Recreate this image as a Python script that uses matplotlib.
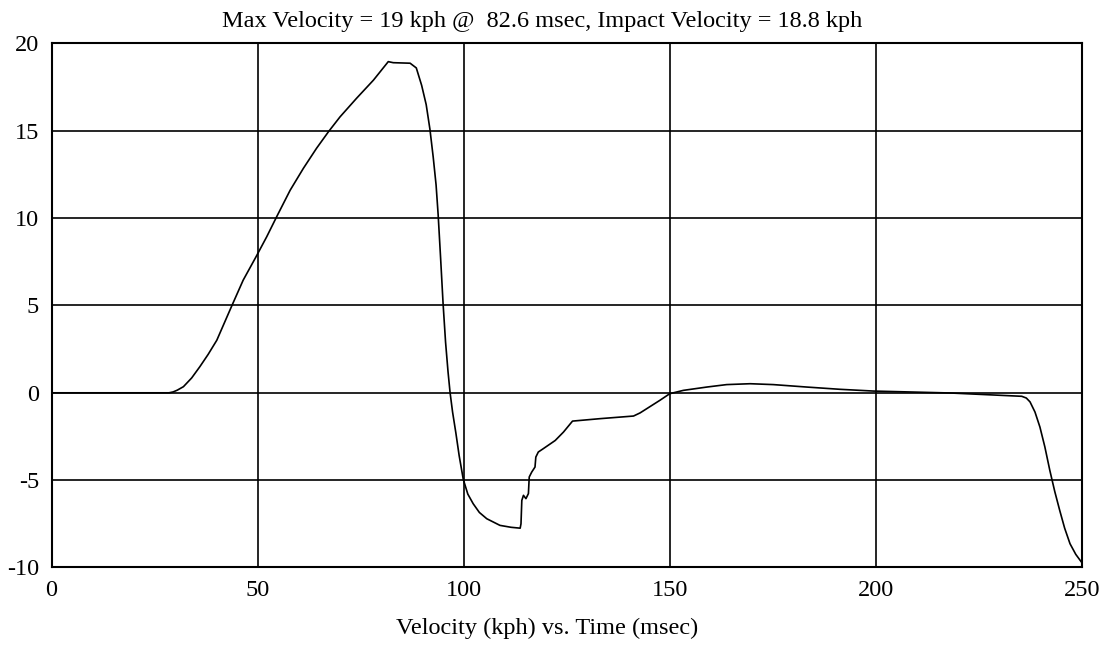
import numpy as np
import matplotlib.pyplot as plt

# time (msec) and velocity (kph)
time_ms = [0, 28.5, 29.5, 30.5, 32.0, 34.0, 36.0, 38.0, 40.1, 43.7, 46.5,
           49.6, 52.2, 54.6, 57.9, 61.1, 64.3, 67.2, 70.0, 74.0, 78.1, 81.7,
           82.9, 87.0, 88.5, 89.8, 90.9, 91.8, 92.6, 93.3, 93.8, 94.4, 95.0,
           95.6, 96.2, 96.7, 97.3, 98.1, 98.9, 99.9, 101.0, 102.3, 103.8,
           105.6, 108.8, 111.5, 113.7, 113.9, 114.1, 114.5, 115.1, 115.7,
           115.9, 116.5, 117.3, 117.5, 118.1, 119.3, 122.2, 124.2, 126.4,
           133.1, 141.2, 142.8, 144.4, 147.6, 150.0, 153.3, 159.0, 163.8,
           169.5, 175.1, 183.2, 191.3, 199.4, 218.0, 235.4, 236.5, 237.4,
           238.6, 239.8, 241.0, 242.2, 243.4, 244.6, 245.8, 247.1, 248.5,
           249.9]
velocity = [0, 0, 0.05, 0.15, 0.35, 0.85, 1.5, 2.2, 3.01, 4.96, 6.45,
            7.78, 8.93, 10.07, 11.6, 12.85, 14.0, 14.95, 15.8, 16.86, 17.9, 18.96,
            18.9, 18.87, 18.6, 17.6, 16.5, 15.1, 13.5, 11.9, 10.2, 7.7, 5.1,
            2.9, 1.2, 0.0, -1.1, -2.3, -3.6, -4.96, -5.8, -6.35, -6.85,
            -7.21, -7.59, -7.7, -7.75, -7.5, -6.16, -5.87, -6.06, -5.77,
            -4.82, -4.54, -4.25, -3.68, -3.39, -3.2, -2.73, -2.25, -1.62,
            -1.48, -1.33, -1.15, -0.91, -0.43, -0.05, 0.14, 0.33, 0.47,
            0.52, 0.47, 0.33, 0.2, 0.1, -0.01, -0.2, -0.3, -0.52,
            -1.1, -1.96, -3.1, -4.44, -5.65, -6.73, -7.75, -8.64, -9.25,
            -9.7]

x_ticks = [0, 50, 100, 150, 200, 250]
y_ticks = [-10, -5, 0, 5, 10, 15, 20]

title = "Max Velocity = 19 kph @  82.6 msec, Impact Velocity = 18.8 kph"
xlabel = "Velocity (kph) vs. Time (msec)"

plt.rcParams['font.family'] = ['Liberation Serif', 'DejaVu Serif']
plt.rcParams['axes.unicode_minus'] = False

fig = plt.figure(figsize=(11.08, 6.45), dpi=100)
ax = fig.add_axes([0.0465, 0.1202, 0.930, 0.8124])

ax.plot(time_ms, velocity, color='black', lw=1.2)

ax.set_xlim(0, 250)
ax.set_ylim(-10, 20)
ax.set_xticks(x_ticks)
ax.set_yticks(y_ticks)
ax.tick_params(length=0, labelsize=17.5, pad=9)
ax.grid(True, color='black', lw=1.2)
for s in ax.spines.values():
    s.set_color('black')
    s.set_linewidth(1.5)

fig.text(222 / 1108, 1 - 22 / 645, title, fontsize=17.5, ha='left', va='center')
fig.text(547 / 1108, 1 - 628 / 645, xlabel, fontsize=17.5, ha='center', va='center')

fig.savefig('out.png', dpi=100)
